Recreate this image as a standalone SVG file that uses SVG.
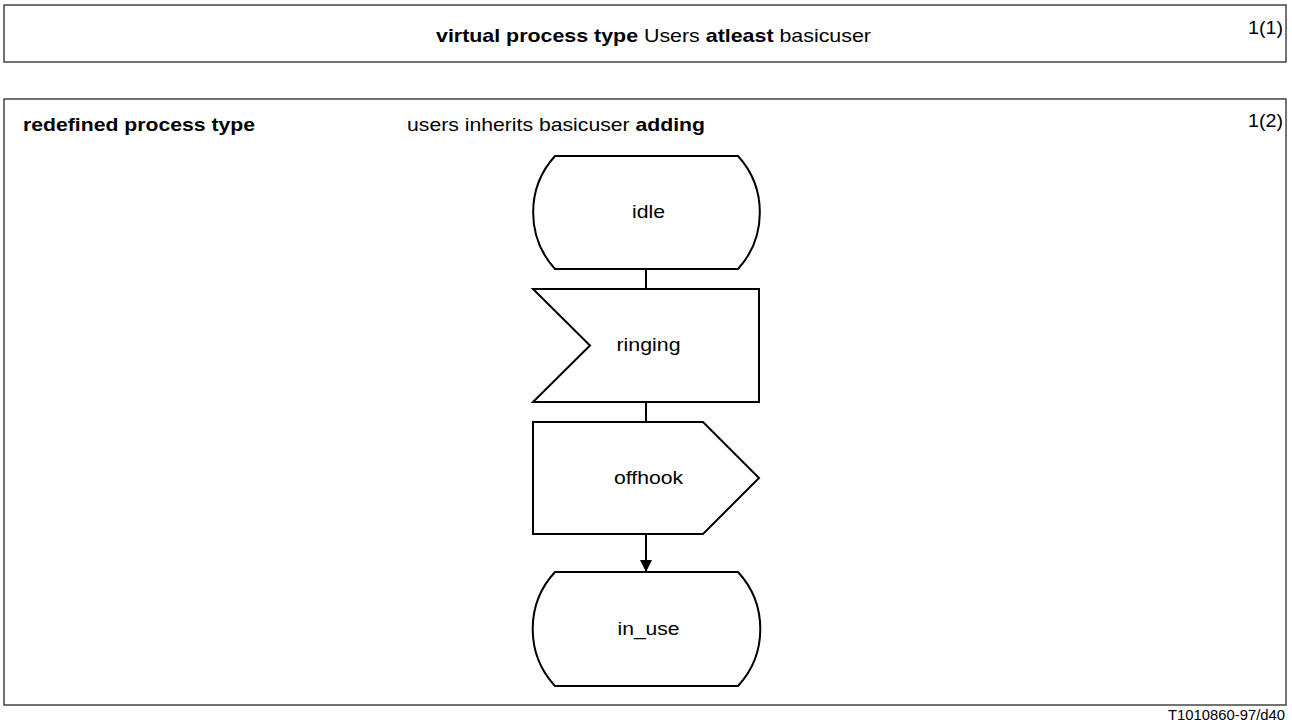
<svg xmlns="http://www.w3.org/2000/svg" width="1292" height="724" viewBox="0 0 1292 724">
<style>
.frame{fill:none;stroke:#444;stroke-width:1.5}
.node{fill:#fff;stroke:#000;stroke-width:2;stroke-linejoin:miter}
.conn{fill:none;stroke:#000;stroke-width:2}
.t{font-family:"Liberation Sans",Arial,sans-serif;font-size:18.5px;fill:#000}
.b{font-weight:bold}
.c{text-anchor:middle}
.r{text-anchor:end}
.small{font-size:14.5px}
</style>
<defs>
<marker id="arrow" markerWidth="12" markerHeight="12" refX="12" refY="6" orient="auto" markerUnits="userSpaceOnUse">
<path d="M0,0 L12,6 L0,12 Z" fill="#000"/>
</marker>
</defs>
<g id="frame-virtual">
<rect class="frame" x="4" y="5" width="1282" height="57"/>
<text class="t" x="436" y="42" textLength="435" lengthAdjust="spacingAndGlyphs"><tspan class="b">virtual process type</tspan> Users <tspan class="b">atleast</tspan> basicuser</text>
<text class="t r" x="1283" y="34" textLength="35" lengthAdjust="spacingAndGlyphs">1(1)</text>
</g>
<g id="frame-redefined">
<rect class="frame" x="4" y="99" width="1282" height="606"/>
<text class="t b" x="23" y="131" textLength="232" lengthAdjust="spacingAndGlyphs">redefined process type</text>
<text class="t" x="407" y="131" textLength="298" lengthAdjust="spacingAndGlyphs">users inherits basicuser <tspan class="b">adding</tspan></text>
<text class="t r" x="1283" y="127" textLength="35" lengthAdjust="spacingAndGlyphs">1(2)</text>
</g>
<g id="connectors">
<line class="conn" x1="646" y1="269" x2="646" y2="289"/>
<line class="conn" x1="646" y1="402" x2="646" y2="422"/>
<line class="conn" x1="646" y1="534" x2="646" y2="572" marker-end="url(#arrow)"/>
</g>
<g id="node-idle">
<path class="node" d="M555,156 L738,156 A84,84 0 0 1 738,269 L555,269 A84,84 0 0 1 555,156 Z"/>
<text class="t c" x="648.5" y="218" textLength="33" lengthAdjust="spacingAndGlyphs">idle</text>
</g>
<g id="node-ringing">
<polygon class="node" points="533,289 759,289 759,402 533,402 590,345.5"/>
<text class="t c" x="648.5" y="351" textLength="64" lengthAdjust="spacingAndGlyphs">ringing</text>
</g>
<g id="node-offhook">
<polygon class="node" points="533,422 703,422 759,478 703,534 533,534"/>
<text class="t c" x="648.5" y="484" textLength="69" lengthAdjust="spacingAndGlyphs">offhook</text>
</g>
<g id="node-in_use">
<path class="node" d="M555,572 L738,572 A84,84 0 0 1 738,686 L555,686 A84,84 0 0 1 555,572 Z"/>
<text class="t c" x="648.5" y="635" textLength="62" lengthAdjust="spacingAndGlyphs">in_use</text>
</g>
<text class="t r small" x="1285" y="720" textLength="117" lengthAdjust="spacingAndGlyphs">T1010860-97/d40</text>
</svg>
